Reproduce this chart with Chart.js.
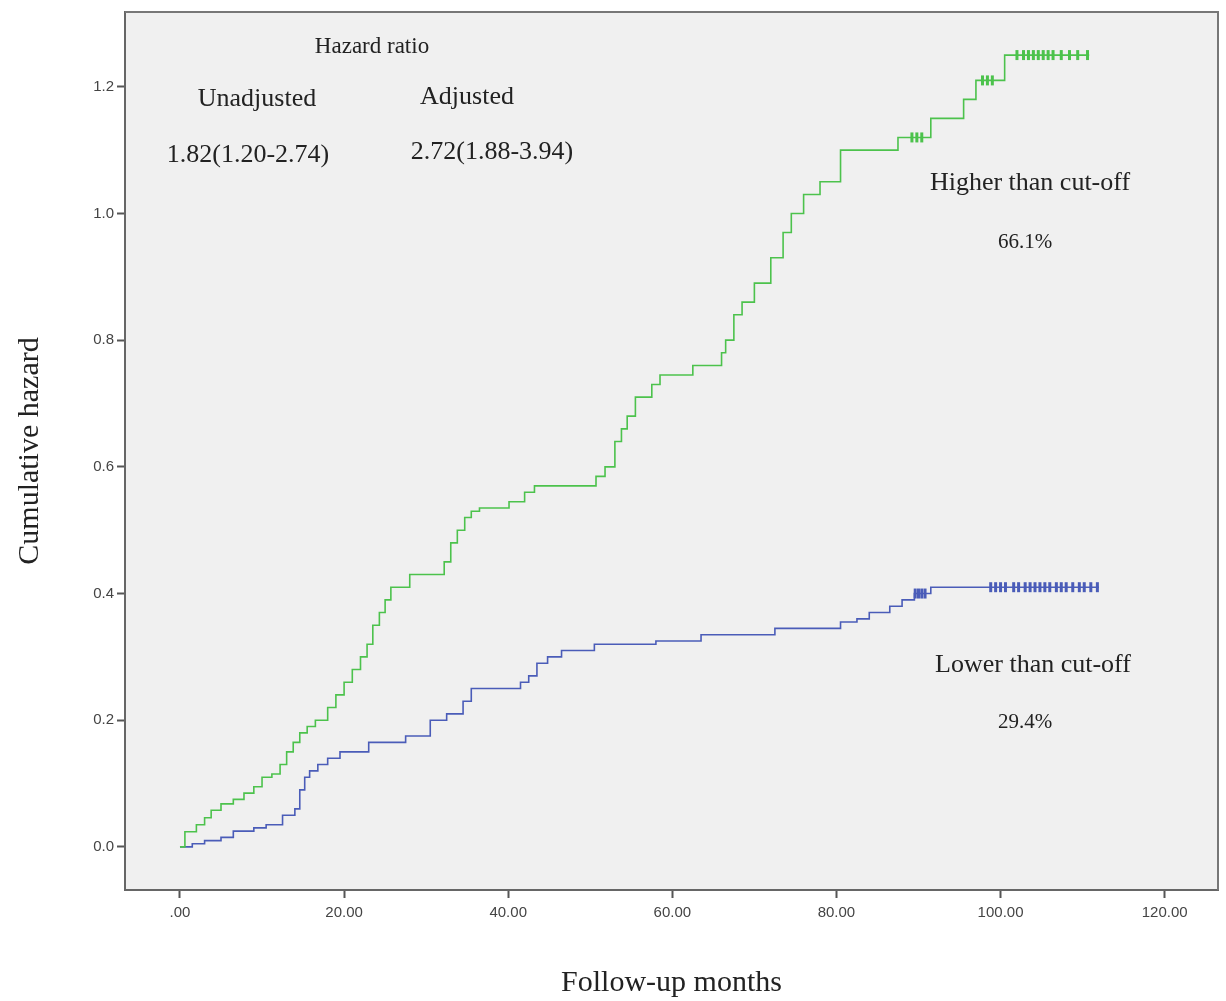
<!DOCTYPE html>
<html lang="en">
  <head>
    <meta charset="UTF-8" />
    <title>Cumulative hazard</title>
    <style>
      body { margin: 0; background: #fff; }
    </style>
  </head>
  <body>
    <canvas id="hazard" width="1226" height="1001"></canvas>

    <script src="https://cdn.jsdelivr.net/npm/chart.js@4.4.1/dist/chart.umd.min.js"></script>
    <script>
      // data (months, cumulative hazard)
      const highTimes = [0, 0.6, 2.0, 3.0, 3.8, 5.0, 6.5, 7.8, 9.0, 10.0, 11.2, 12.2, 13.0, 13.8, 14.6, 15.5, 16.5, 18.0, 19.0, 20.0, 21.0, 22.0, 22.8, 23.5, 24.3, 25.0, 25.7, 28.0, 32.2, 33.0, 33.8, 34.7, 35.5, 36.5, 40.1, 42.0, 43.2, 50.7, 51.8, 53.0, 53.8, 54.5, 55.5, 57.5, 58.5, 62.5, 66.0, 66.5, 67.5, 68.5, 70.0, 72.0, 73.5, 74.5, 76.0, 78.0, 80.5, 87.5, 91.5, 95.5, 97.0, 100.5, 110.8];
      const highValues = [0, 0.024, 0.035, 0.046, 0.058, 0.068, 0.075, 0.085, 0.095, 0.11, 0.115, 0.13, 0.15, 0.165, 0.18, 0.19, 0.2, 0.22, 0.24, 0.26, 0.28, 0.3, 0.32, 0.35, 0.37, 0.39, 0.41, 0.43, 0.45, 0.48, 0.5, 0.52, 0.53, 0.535, 0.545, 0.56, 0.57, 0.585, 0.6, 0.64, 0.66, 0.68, 0.71, 0.73, 0.745, 0.76, 0.78, 0.8, 0.84, 0.86, 0.89, 0.93, 0.97, 1.0, 1.03, 1.05, 1.1, 1.12, 1.15, 1.18, 1.21, 1.25, 1.25];
      const lowTimes = [0, 1.5, 3.0, 5.0, 6.5, 9.0, 10.5, 12.5, 14.0, 14.6, 15.2, 15.8, 16.8, 18.0, 19.5, 23.0, 27.5, 30.5, 32.5, 34.5, 35.5, 41.5, 42.5, 43.5, 44.8, 46.5, 50.5, 58.0, 63.5, 72.5, 80.5, 82.5, 84.0, 86.5, 88.0, 89.5, 91.5, 112.0];
      const lowValues = [0, 0.005, 0.01, 0.015, 0.025, 0.03, 0.035, 0.05, 0.06, 0.09, 0.11, 0.12, 0.13, 0.14, 0.15, 0.165, 0.175, 0.2, 0.21, 0.23, 0.25, 0.26, 0.27, 0.29, 0.3, 0.31, 0.32, 0.325, 0.335, 0.345, 0.355, 0.36, 0.37, 0.38, 0.39, 0.4, 0.41, 0.41];

      // censored cases (tick marks on the curves)
      const highCensored = [89.2, 89.8, 90.4, 97.8, 98.4, 99.0, 102.0, 102.8, 103.4, 104.0, 104.6, 105.2, 105.8, 106.4, 107.4, 108.4, 109.4, 110.6];
      const lowCensored = [89.6, 90.0, 90.4, 90.8, 98.8, 99.4, 100.0, 100.6, 101.6, 102.2, 103.0, 103.6, 104.2, 104.8, 105.4, 106.0, 106.8, 107.4, 108.0, 108.8, 109.6, 110.2, 111.0, 111.8];

      const xTicks = [0, 20, 40, 60, 80, 100, 120];
      const yTicks = [0, 0.2, 0.4, 0.6, 0.8, 1.0, 1.2];

      const greenColor = "#4cc24c";
      const blueColor = "#4a5cb8";

      const toPoints = (times, values) => times.map((t, i) => ({ x: t, y: values[i] }));

      // value of the step curve at time t
      const stepValue = (times, values, t) => {
        let v = values[0];
        for (let i = 0; i < times.length; i++) {
          if (times[i] <= t) v = values[i];
        }
        return v;
      };

      const censorPoints = (cens, times, values) =>
        cens.map((t) => ({ x: t, y: stepValue(times, values, t) }));

      // gray plot panel and frame
      const panelPlugin = {
        id: "panel",
        beforeDraw(chart) {
          const { ctx, chartArea: a } = chart;
          ctx.save();
          ctx.fillStyle = "#f0f0f0";
          ctx.fillRect(a.left, a.top, a.right - a.left, a.bottom - a.top);
          ctx.restore();
        },
        afterDraw(chart) {
          const { ctx, chartArea: a } = chart;
          ctx.save();
          ctx.strokeStyle = "#777";
          ctx.lineWidth = 2;
          ctx.beginPath();
          ctx.moveTo(a.left, a.top);
          ctx.lineTo(a.right, a.top);
          ctx.lineTo(a.right, a.bottom);
          ctx.stroke();
          ctx.restore();
        },
      };

      // text annotations inside the panel
      const notes = [
        { text: "Hazard ratio", x: 372, y: 47, size: 23 },
        { text: "Unadjusted", x: 257, y: 99, size: 26 },
        { text: "Adjusted", x: 467, y: 97, size: 26 },
        { text: "1.82(1.20-2.74)", x: 248, y: 155, size: 26 },
        { text: "2.72(1.88-3.94)", x: 492, y: 152, size: 26 },
        { text: "Higher than cut-off", x: 1030, y: 183, size: 26 },
        { text: "66.1%", x: 1025, y: 242, size: 21 },
        { text: "Lower than cut-off", x: 1033, y: 665, size: 26 },
        { text: "29.4%", x: 1025, y: 722, size: 21 },
      ];

      const notesPlugin = {
        id: "notes",
        afterDatasetsDraw(chart) {
          const ctx = chart.ctx;
          ctx.save();
          ctx.fillStyle = "#222";
          ctx.textAlign = "center";
          ctx.textBaseline = "middle";
          notes.forEach((n) => {
            ctx.font = n.size + "px 'Liberation Serif', 'DejaVu Serif', serif";
            ctx.fillText(n.text, n.x, n.y);
          });
          ctx.restore();
        },
      };

      const config = {
        type: "line",
        data: {
          datasets: [
            {
              label: "Higher than cut-off",
              data: toPoints(highTimes, highValues),
              borderColor: greenColor,
              borderWidth: 1.6,
              stepped: "before",
              pointRadius: 0,
            },
            {
              label: "Lower than cut-off",
              data: toPoints(lowTimes, lowValues),
              borderColor: blueColor,
              borderWidth: 1.6,
              stepped: "before",
              pointRadius: 0,
            },
            {
              type: "scatter",
              label: "Higher censored",
              data: censorPoints(highCensored, highTimes, highValues),
              pointStyle: "line",
              rotation: 90,
              radius: 5,
              borderWidth: 3,
              borderColor: greenColor,
            },
            {
              type: "scatter",
              label: "Lower censored",
              data: censorPoints(lowCensored, lowTimes, lowValues),
              pointStyle: "line",
              rotation: 90,
              radius: 5,
              borderWidth: 3,
              borderColor: blueColor,
            },
          ],
        },
        options: {
          responsive: false,
          animation: false,
          layout: { padding: { top: 10, right: 6, left: 0, bottom: 0 } },
          plugins: {
            legend: { display: false },
            tooltip: { enabled: false },
          },
          scales: {
            x: {
              type: "linear",
              min: -6.7,
              max: 126.5,
              afterBuildTicks: (scale) => {
                scale.ticks = xTicks.map((v) => ({ value: v }));
              },
              afterFit: (scale) => {
                scale.height = 111;
              },
              ticks: {
                callback: (v) => (v === 0 ? ".00" : v.toFixed(2)),
                color: "#444",
                font: { family: "'Liberation Sans', Arial, sans-serif", size: 15 },
                padding: 6,
                maxRotation: 0,
              },
              grid: { drawOnChartArea: false, tickLength: 8, tickWidth: 2, tickColor: "#555" },
              border: { color: "#666", width: 2 },
              title: {
                display: true,
                text: "Follow-up months",
                color: "#222",
                font: { family: "'Liberation Serif', serif", size: 30 },
                padding: { top: 4, bottom: 0 },
              },
            },
            y: {
              type: "linear",
              min: -0.068,
              max: 1.318,
              afterBuildTicks: (scale) => {
                scale.ticks = yTicks.map((v) => ({ value: v }));
              },
              afterFit: (scale) => {
                scale.width = 125;
              },
              ticks: {
                callback: (v) => v.toFixed(1),
                color: "#444",
                font: { family: "'Liberation Sans', Arial, sans-serif", size: 15 },
                padding: 3,
              },
              grid: { drawOnChartArea: false, tickLength: 8, tickWidth: 2, tickColor: "#555" },
              border: { color: "#666", width: 2 },
              title: {
                display: true,
                text: "Cumulative hazard",
                color: "#222",
                font: { family: "'Liberation Serif', serif", size: 30 },
                padding: { top: 12, bottom: 0 },
              },
            },
          },
        },
        plugins: [panelPlugin, notesPlugin],
      };

      const hazardChart = new Chart(document.getElementById("hazard"), config);
    </script>
  </body>
</html>
